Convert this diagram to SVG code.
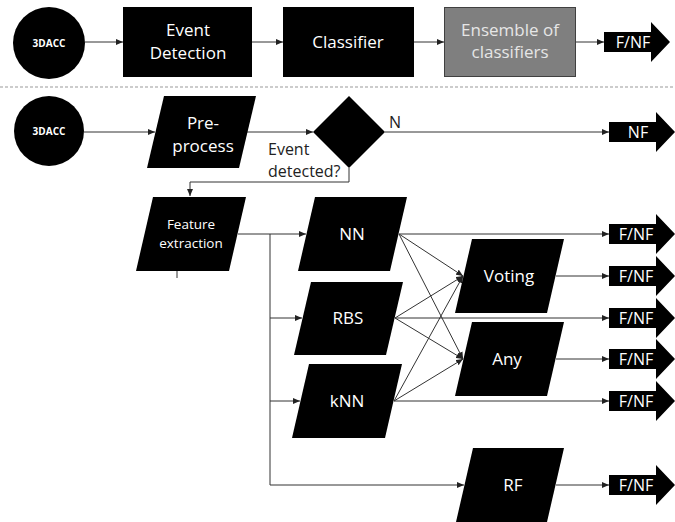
<svg xmlns="http://www.w3.org/2000/svg" width="675" height="522" viewBox="0 0 675 522">
<style>
.n{fill:#000;stroke:none}
.t{font-family:"Open Sans","Liberation Sans",sans-serif;fill:#fff;text-anchor:middle}
.big{font-size:17px}
.mid{font-size:13.5px}
.lbl{font-family:"Open Sans","Liberation Sans",sans-serif;font-size:16px;fill:#222}
.fn{font-family:"Open Sans","Liberation Sans",sans-serif;font-size:16px;fill:#fff;text-anchor:middle}
.c{fill:none;stroke:#333;stroke-width:1}
.ca{fill:none;stroke:#333;stroke-width:1;marker-end:url(#ah)}
</style>
<defs>
<marker id="ah" markerWidth="7" markerHeight="6" refX="7" refY="3" orient="auto" markerUnits="userSpaceOnUse">
<path d="M0,0 L7,3 L0,6 Z" fill="#222"/>
</marker>
<path id="blk" d="M0,-10 H47 V-20 L66,0 L47,20 V10 H0 Z" fill="#000"/>
</defs>
<rect width="675" height="522" fill="#fff"/>
<line x1="0" y1="87" x2="675" y2="87" stroke="#999" stroke-width="1" stroke-dasharray="3,2"/>

<g id="connectors">
<line class="ca" x1="85" y1="42" x2="123" y2="42"/>
<line class="ca" x1="252" y1="42" x2="283" y2="42"/>
<line class="ca" x1="414" y1="42" x2="444" y2="42"/>
<line class="ca" x1="576" y1="42" x2="604" y2="42"/>
<line class="ca" x1="84" y1="132" x2="155" y2="132"/>
<line class="ca" x1="247" y1="132" x2="313" y2="132"/>
<line class="ca" x1="385" y1="132" x2="609" y2="132"/>
<path class="ca" d="M349,168 V182 H190 V196"/>
<line class="c" x1="177" y1="271" x2="177" y2="278"/>
<line class="ca" x1="238" y1="234" x2="306" y2="234"/>
<line class="c" x1="270" y1="234" x2="270" y2="485"/>
<line class="ca" x1="270" y1="318" x2="302" y2="318"/>
<line class="ca" x1="270" y1="401" x2="300" y2="401"/>
<line class="ca" x1="270" y1="485" x2="464" y2="485"/>
<line class="ca" x1="399" y1="234" x2="609" y2="234"/>
<line class="ca" x1="395" y1="318" x2="609" y2="318"/>
<line class="ca" x1="394" y1="401" x2="609" y2="401"/>
<line class="ca" x1="399" y1="234" x2="463" y2="276"/>
<line class="ca" x1="399" y1="234" x2="463" y2="359"/>
<line class="ca" x1="395" y1="318" x2="463" y2="276"/>
<line class="ca" x1="395" y1="318" x2="463" y2="359"/>
<line class="ca" x1="394" y1="401" x2="463" y2="276"/>
<line class="ca" x1="394" y1="401" x2="463" y2="359"/>
<line class="ca" x1="556" y1="276" x2="609" y2="276"/>
<line class="ca" x1="556" y1="359" x2="609" y2="359"/>
<line class="ca" x1="556" y1="485" x2="609" y2="485"/>
</g>

<g id="src1"><circle class="n" cx="49" cy="43" r="36"/><text class="t" x="49" y="47" font-size="10" font-weight="bold">3DACC</text></g>
<g id="eventdet"><rect class="n" x="123" y="7" width="129" height="70"/><text class="t big" x="188" y="36">Event</text><text class="t big" x="188" y="59">Detection</text></g>
<g id="classifier"><rect class="n" x="283" y="7" width="131" height="70"/><text class="t big" x="348" y="48">Classifier</text></g>
<g id="ensemble"><rect x="444.5" y="7.5" width="131" height="69" fill="#7f7f7f" stroke="#404040" stroke-width="1"/><text class="t big" x="510" y="36" style="fill:#e6e6e6">Ensemble of</text><text class="t big" x="510" y="58" style="fill:#e6e6e6">classifiers</text></g>
<g id="fnf0"><use href="#blk" x="604" y="42"/><text class="fn" x="633" y="48">F/NF</text></g>

<g id="src2"><circle class="n" cx="49" cy="131" r="35"/><text class="t" x="49" y="135" font-size="10" font-weight="bold">3DACC</text></g>
<g id="preprocess"><polygon class="n" points="164,96 256,96 239,168 147,168"/><text class="t big" x="203" y="129">Pre-</text><text class="t big" x="203" y="152">process</text></g>
<g id="decision"><polygon class="n" points="349,96 385,132 349,168 313,132"/></g>
<g id="labels"><text class="lbl" x="389" y="128">N</text><text class="lbl" x="268" y="155">Event</text><text class="lbl" x="268" y="177">detected?</text></g>
<g id="nf"><use href="#blk" x="609" y="132"/><text class="fn" x="638" y="138">NF</text></g>

<g id="feature"><polygon class="n" points="153,197 246,197 229,271 136,271"/><text class="t mid" x="191" y="229">Feature</text><text class="t mid" x="191" y="248">extraction</text></g>
<g id="nn"><polygon class="n" points="315,197 407,197 390,271 298,271"/><text class="t big" x="352" y="240">NN</text></g>
<g id="rbs"><polygon class="n" points="311,282 403,282 386,355 294,355"/><text class="t big" x="348" y="324">RBS</text></g>
<g id="knn"><polygon class="n" points="309,364 402,364 385,438 292,438"/><text class="t big" x="347" y="407">kNN</text></g>
<g id="voting"><polygon class="n" points="472,239 564,239 547,313 455,313"/><text class="t big" x="509" y="282">Voting</text></g>
<g id="any"><polygon class="n" points="472,322 564,322 547,396 455,396"/><text class="t big" x="507" y="365">Any</text></g>
<g id="rf"><polygon class="n" points="473,448 564,448 547,522 456,522"/><text class="t big" x="513" y="491">RF</text></g>

<g id="fnf1"><use href="#blk" x="609" y="234"/><text class="fn" x="636" y="240">F/NF</text></g>
<g id="fnf2"><use href="#blk" x="609" y="276"/><text class="fn" x="636" y="282">F/NF</text></g>
<g id="fnf3"><use href="#blk" x="609" y="318"/><text class="fn" x="636" y="324">F/NF</text></g>
<g id="fnf4"><use href="#blk" x="609" y="359"/><text class="fn" x="636" y="365">F/NF</text></g>
<g id="fnf5"><use href="#blk" x="609" y="401"/><text class="fn" x="636" y="407">F/NF</text></g>
<g id="fnf6"><use href="#blk" x="609" y="485"/><text class="fn" x="636" y="491">F/NF</text></g>
</svg>
